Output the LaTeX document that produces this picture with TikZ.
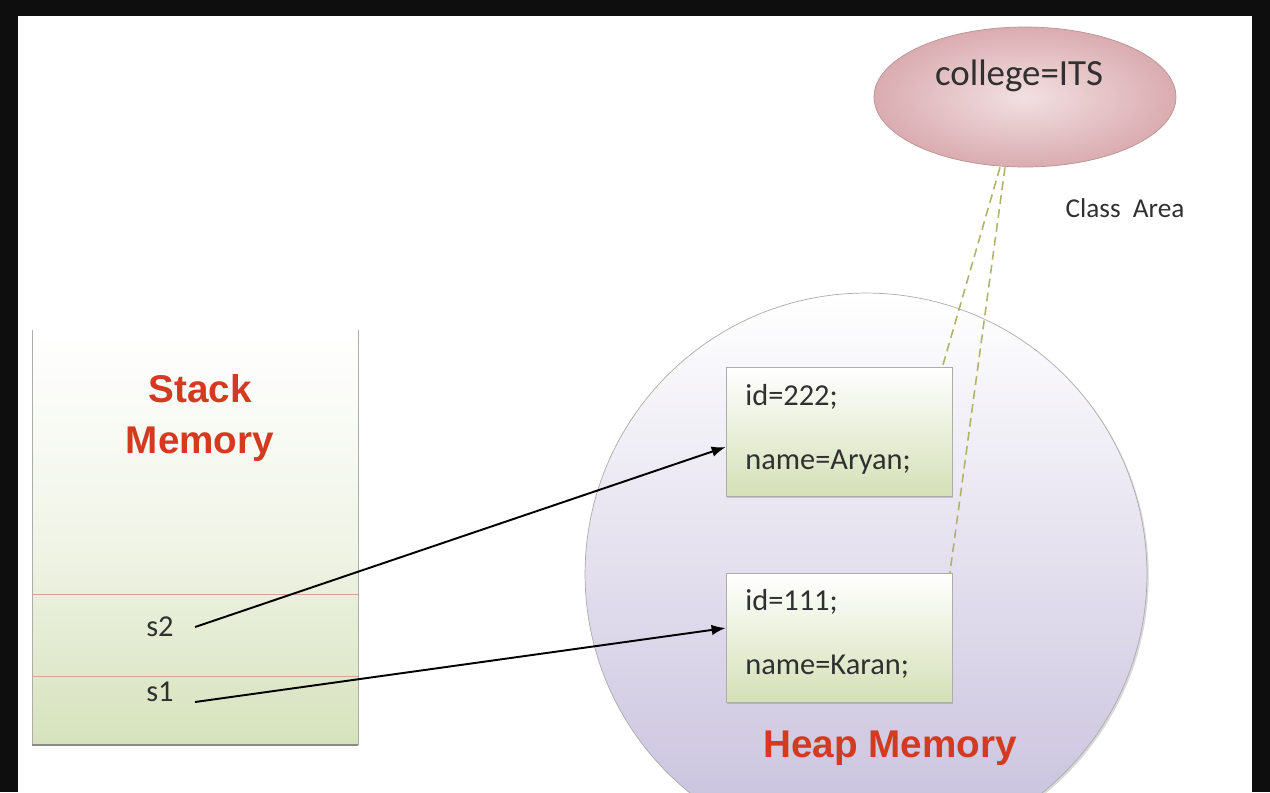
\documentclass[tikz,border=0pt]{standalone}
\usepackage{fontspec}
\setmainfont{Carlito}
\newfontfamily\headfont{Liberation Sans}
\usetikzlibrary{positioning,shapes.geometric,arrows.meta,shadows}

\definecolor{frameblack}{RGB}{14,14,14}
\definecolor{stackgreen}{RGB}{214,226,188}
\definecolor{boxgreen}{RGB}{212,224,182}
\definecolor{heaplav}{RGB}{198,190,220}
\definecolor{edgegrey}{RGB}{172,172,168}
\definecolor{slotline}{RGB}{206,168,150}
\definecolor{headred}{RGB}{212,58,32}
\definecolor{pinkout}{RGB}{218,172,176}
\definecolor{pinkin}{RGB}{242,224,226}
\definecolor{linkolive}{RGB}{176,180,104}
\definecolor{textgrey}{RGB}{48,48,48}

\begin{document}
\begin{tikzpicture}[x=0.02cm,y=-0.02cm,
    heading/.style={font=\headfont\bfseries\fontsize{22}{28.5}\selectfont, text=headred, align=center},
    memtext/.style={font=\fontsize{17.3}{20}\selectfont, text=textgrey, anchor=west, inner sep=0pt},
    objbox/.style={draw=edgegrey, top color=white, bottom color=boxgreen,
        minimum width=4.52cm, minimum height=2.58cm,
        drop shadow={opacity=0.35, shadow xshift=0.6pt, shadow yshift=-1pt}},
    ptr/.style={-{Latex[length=8pt,width=6pt]}, line width=1.1pt, black},
    classlink/.style={draw=linkolive, line width=0.9pt, dash pattern=on 5pt off 3pt}]

    % Frame and page
    \useasboundingbox (0,0) rectangle (1270,792);
    \fill[frameblack] (0,0) rectangle (1270,792);
    \fill[white] (18,16) rectangle (1252,792);
    \clip (18,16) rectangle (1252,792);

    % Stack memory
    \shade[top color=white, bottom color=stackgreen, middle color=stackgreen!35] (32,330) rectangle (358,745);
    \draw[edgegrey] (32,330) -- (32,745);
    \draw[edgegrey] (358,330) -- (358,745);
    \draw[edgegrey!80!black, line width=1.5pt] (32,745) -- (358,745);
    \draw[slotline] (32,594) -- (358,594);
    \draw[slotline] (32,676) -- (358,676);
    \node[heading] (stackname) at (200,418) {Stack\\Memory};
    \node[memtext] (s2) at (146,627) {s2};
    \node[memtext] (s1) at (146,692) {s1};

    % Heap memory
    \node[circle, draw=edgegrey, top color=white, bottom color=heaplav, minimum size=11.24cm,
        drop shadow={opacity=0.3, shadow xshift=1pt, shadow yshift=-1pt}] (heap) at (866,574) {};
    \node[heading] (heapname) at (890,748) {Heap Memory};

    % Objects in the heap
    \node[objbox] (aryan) at (839,432) {};
    \node[memtext] (id2) at (745,397) {id=222;};
    \node[memtext] (name2) at (745,462) {name=Aryan;};
    \node[objbox] (karan) at (839,638) {};
    \node[memtext] (id1) at (745,602) {id=111;};
    \node[memtext] (name1) at (745,667) {name=Karan;};

    % Class area
    \node[ellipse, draw=pinkout!85!black, inner color=pinkin, outer color=pinkout,
        minimum width=6.04cm, minimum height=2.8cm] (classobj) at (1025,97) {};
    \node[font=\fontsize{21}{24}\selectfont, text=textgrey] (college) at (1019,76) {college=ITS};
    \node[font=\fontsize{15.5}{18}\selectfont, text=textgrey] (classarea) at (1125,208) {Class\ \ Area};

    % References
    \draw[ptr] ([xshift=12pt]s2.east) -- ([yshift=-0.3cm]aryan.west);
    \draw[ptr] ([xshift=12pt,yshift=-0.2cm]s1.east) -- ([yshift=0.2cm]karan.west);
    \draw[classlink] ([xshift=-0.5cm]classobj.south) -- ([xshift=-0.2cm]aryan.north east);
    \draw[classlink] ([xshift=-0.4cm]classobj.south) -- ([xshift=-0.05cm]karan.north east);
\end{tikzpicture}
\end{document}
